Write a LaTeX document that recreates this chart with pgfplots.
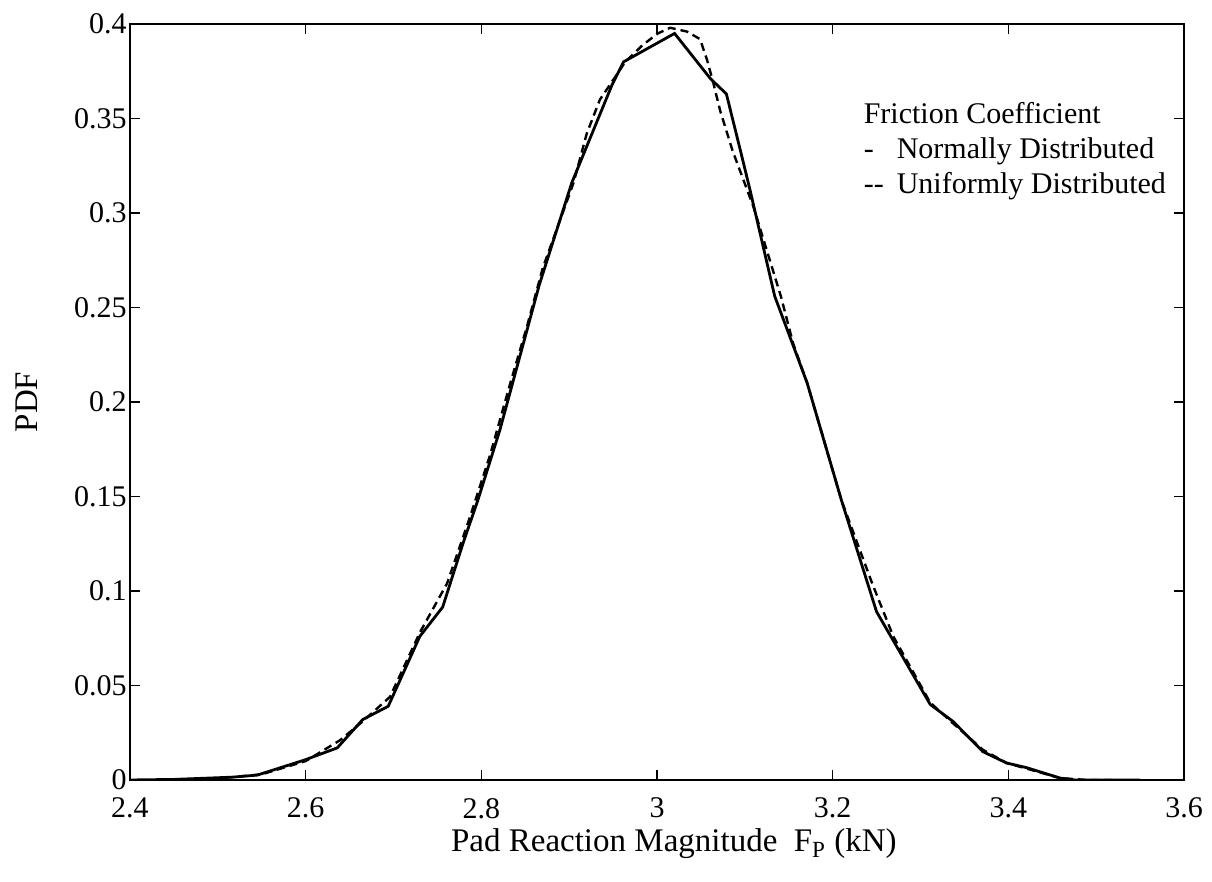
\documentclass[border=0pt]{standalone}
\usepackage{fontspec}
\setmainfont{Liberation Serif}
\usepackage{pgfplots}
\pgfplotsset{compat=1.18}
\usepackage{pgfplotstable}

% PDF of pad reaction magnitude, friction coefficient normal
\pgfplotstableread{
x y
2.400 0
2.450 0.0003
2.517 0.0015
2.545 0.0026
2.599 0.0106
2.636 0.017
2.665 0.032
2.694 0.039
2.730 0.076
2.756 0.0915
2.779 0.125
2.796 0.148
2.821 0.185
2.866 0.262
2.903 0.316
2.949 0.368
2.962 0.380
3.020 0.395
3.061 0.371
3.079 0.363
3.095 0.333
3.106 0.312
3.134 0.256
3.171 0.210
3.210 0.148
3.250 0.089
3.311 0.040
3.337 0.031
3.371 0.015
3.398 0.009
3.421 0.0065
3.459 0.001
3.476 0
3.550 0
}\normaldata

% friction coefficient uniform
\pgfplotstableread{
x y
2.450 0
2.500 0.0008
2.550 0.003
2.600 0.010
2.639 0.021
2.665 0.031
2.696 0.044
2.730 0.078
2.761 0.104
2.787 0.139
2.810 0.172
2.833 0.210
2.852 0.240
2.870 0.271
2.905 0.316
2.920 0.342
2.935 0.360
2.964 0.380
2.984 0.389
3.001 0.395
3.015 0.398
3.034 0.396
3.049 0.392
3.057 0.381
3.064 0.369
3.072 0.354
3.086 0.333
3.110 0.303
3.141 0.256
3.155 0.231
3.171 0.210
3.210 0.148
3.245 0.104
3.269 0.076
3.311 0.041
3.337 0.030
3.371 0.016
3.398 0.009
3.421 0.006
3.459 0.001
3.490 0
3.520 0
}\uniformdata

\begin{document}
\begin{tikzpicture}
\begin{axis}[
    name=ax,
    scale only axis,
    width=527pt, height=378pt,
    xmin=2.4, xmax=3.6, ymin=0, ymax=0.4,
    xtick={2.4,2.6,2.8,3,3.2,3.4,3.6},
    xticklabels={2.4,2.6,2.8,3,3.2,3.4,3.6},
    ytick={0,0.05,0.1,0.15,0.2,0.25,0.3,0.35,0.4},
    yticklabels={0,0.05,0.1,0.15,0.2,0.25,0.3,0.35,0.4},
    tick align=inside,
    major tick length=5pt,
    axis line style={line width=1.1pt},
    every tick/.style={black, line width=0.8pt},
    tick label style={font=\fontsize{15}{17}\selectfont},
    xticklabel style={yshift=-5.5pt},
    yticklabel style={inner sep=1.5pt},
    every axis x label/.style={at={(axis description cs:0.516,0)}, anchor=base, yshift=-36pt},
    every axis y label/.style={at={(axis description cs:-0.098,0.5)}, anchor=center, rotate=90},
    label style={font=\fontsize{16.5}{19}\selectfont},
    xlabel={Pad Reaction Magnitude\ \ F\textsubscript{P} (kN)},
    ylabel={PDF},
]
\addplot[black, line width=1.4pt] table {\normaldata};
\addplot[black, line width=1.2pt, dash pattern=on 4pt off 2.5pt] table {\uniformdata};
\node[anchor=north west, inner sep=0pt, align=left, font=\fontsize{15}{17.5}\selectfont]
    at (axis cs:3.235,0.359)
    {Friction Coefficient\\
     \makebox[1.1em][l]{-}Normally Distributed\\
     \makebox[1.1em][l]{-{}-}Uniformly Distributed};
\end{axis}
\path ([shift={(-65pt,-51pt)}]ax.south west) rectangle ([shift={(14pt,12pt)}]ax.north east);
\end{tikzpicture}
\end{document}
